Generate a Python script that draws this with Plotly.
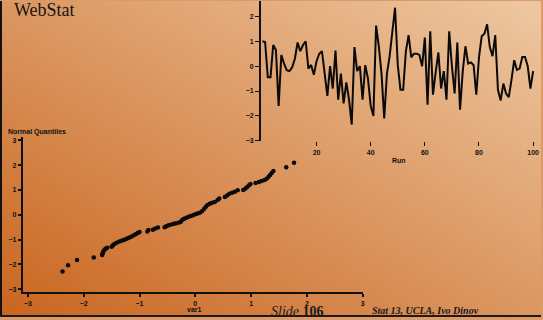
import base64
import plotly.graph_objects as go

# ---- data -------------------------------------------------------------
run_index = list(range(0, 101))
run_values = [
    1.0, 0.97, -0.45, -0.45, 0.85, 0.65, -1.6, 0.45, 0.1, -0.16,
    -0.2, -0.05, 0.3, 0.95, 0.6, 0.85, 1.0, -0.1, 0.05, -0.35,
    0.2, 0.5, 0.6, -0.4, -1.2, 0.0, -0.9, 0.63, -1.35, -0.3,
    -1.5, -0.65, -1.35, -2.35, 0.77, -0.2, 0.0, -1.35, 0.04, -0.5,
    -1.6, -2.0, 1.63, 0.8, -0.3, -2.1, -0.3, 0.4, 1.5, 2.35,
    0.05, -0.95, -0.95, 0.6, 1.25, 0.35, 0.5, 0.5, 0.45, 0.0,
    1.15, -1.55, 1.4, -1.15, -0.25, 0.55, -0.9, -0.2, -1.35, 1.4,
    0.0, -1.1, 0.95, -1.75, -0.2, 0.8, 0.1, 0.15, 0.05, -1.15,
    0.35, 1.2, 1.3, 1.68, 0.77, 0.4, 1.25, -0.95, -1.38, -0.7,
    -1.1, -1.25, -0.55, 0.24, -0.15, -0.1, 0.37, 0.37, 0.0, -0.9,
    -0.2,
]

qq_var1 = [
    -2.38, -2.28, -2.12, -1.82,
    -1.67, -1.66, -1.65, -1.63, -1.61, -1.58,
    -1.50, -1.48, -1.45, -1.41, -1.36, -1.31, -1.27, -1.23, -1.19, -1.15,
    -1.11, -1.07, -1.03, -1.00,
    -0.86, -0.84,
    -0.76, -0.72, -0.67,
    -0.55, -0.52, -0.48, -0.43, -0.38, -0.34, -0.29, -0.26, -0.23, -0.20,
    -0.16, -0.12, -0.08, -0.04, 0.00, 0.04, 0.08, 0.12, 0.16, 0.19,
    0.22, 0.26, 0.30, 0.35, 0.40, 0.43,
    0.53, 0.57, 0.61, 0.66, 0.71,
    0.76, 0.86, 0.90, 0.93, 0.96, 0.99, 1.08, 1.14, 1.19, 1.24,
    1.28, 1.31, 1.34, 1.37, 1.40,
    1.63, 1.77,
]
qq_normal = [
    -2.28, -2.03, -1.82, -1.72,
    -1.62, -1.55, -1.48, -1.42, -1.37, -1.33,
    -1.29, -1.24, -1.18, -1.12, -1.07, -1.03, -1.00, -0.96, -0.92, -0.88,
    -0.83, -0.78, -0.73, -0.69,
    -0.67, -0.61,
    -0.60, -0.55, -0.51,
    -0.50, -0.46, -0.42, -0.39, -0.36, -0.34, -0.31, -0.28, -0.20, -0.16,
    -0.12, -0.08, -0.05, -0.02, 0.02, 0.05, 0.08, 0.14, 0.24, 0.32,
    0.39, 0.44, 0.48, 0.52, 0.60, 0.66,
    0.72, 0.78, 0.85, 0.89, 0.93,
    0.99, 1.00, 1.06, 1.12, 1.18, 1.24, 1.28, 1.32, 1.36, 1.40,
    1.45, 1.52, 1.60, 1.68, 1.76,
    1.91, 2.09,
]

run_ticks = [20, 40, 60, 80, 100]
run_ytick_vals = [-3, -2, -1, 0, 1, 2]
qq_ticks = [-3, -2, -1, 0, 1, 2, 3]

# ---- figure -------------------------------------------------------------
W, H = 543, 320
def px(x):
    return x / W
def py(y):
    return 1 - y / H

fig = go.Figure()

fig.add_trace(go.Scatter(
    x=run_index, y=run_values, mode="lines",
    line=dict(color="#0a0a0a", width=2),
    xaxis="x", yaxis="y", showlegend=False, hoverinfo="skip",
))
fig.add_trace(go.Scatter(
    x=qq_var1, y=qq_normal, mode="markers",
    marker=dict(color="#0a0a0a", size=4.5, line=dict(width=0)),
    xaxis="x2", yaxis="y2", showlegend=False, hoverinfo="skip",
))

tick_font = dict(family="Liberation Sans", size=7, color="#111111", weight="bold")

fig.update_layout(
    width=W, height=H,
    margin=dict(l=0, r=0, t=0, b=0),
    paper_bgcolor="#DC9A66",
    plot_bgcolor="rgba(0,0,0,0)",
    xaxis=dict(
        domain=[px(262), px(540)], range=[-0.5, 101.8], anchor="y",
        showgrid=False, zeroline=False, showline=False,
        tickmode="array", tickvals=run_ticks,
        ticks="outside", ticklen=4, tickwidth=1, tickcolor="#111",
        tickfont=tick_font,
    ),
    yaxis=dict(
        domain=[py(142), 1.0], range=[-3.02, 2.62], anchor="x",
        showgrid=False, zeroline=False, showline=True,
        linecolor="#111", linewidth=2,
        tickmode="array", tickvals=run_ytick_vals,
        ticks="outside", ticklen=4, tickwidth=1, tickcolor="#111",
        tickfont=tick_font,
    ),
    xaxis2=dict(
        domain=[px(23), px(364)], range=[-3.09, 3.0], anchor="y2",
        showgrid=False, zeroline=False, showline=True,
        linecolor="#111", linewidth=2,
        tickmode="array", tickvals=qq_ticks,
        ticks="outside", ticklen=3, tickwidth=1.5, tickcolor="#111",
        tickfont=tick_font,
    ),
    yaxis2=dict(
        domain=[py(295), py(138)], range=[-3.12, 3.12], anchor="x2",
        showgrid=False, zeroline=False, showline=True,
        linecolor="#111", linewidth=2,
        tickmode="array", tickvals=qq_ticks,
        ticks="outside", ticklen=3, tickwidth=1.5, tickcolor="#111",
        tickfont=tick_font,
    ),
)

# gradient slide background
svg = (
    '<svg xmlns="http://www.w3.org/2000/svg" width="543" height="320">'
    '<defs><linearGradient id="g" x1="0" y1="1" x2="1" y2="0">'
    '<stop offset="0" stop-color="#C9651F"/>'
    '<stop offset="1" stop-color="#EEC8A2"/>'
    '</linearGradient></defs>'
    '<rect width="543" height="320" fill="url(#g)"/></svg>'
)
src = "data:image/svg+xml;base64," + base64.b64encode(svg.encode()).decode()
fig.add_layout_image(dict(
    source=src, xref="paper", yref="paper", x=0, y=1, sizex=1, sizey=1,
    xanchor="left", yanchor="top", sizing="stretch", layer="below",
))

# slide borders
fig.add_shape(type="rect", xref="paper", yref="paper",
              x0=0, x1=px(2), y0=0, y1=1, fillcolor="#111", line=dict(width=0))
fig.add_shape(type="rect", xref="paper", yref="paper",
              x0=0, x1=1, y0=0, y1=2 / H, fillcolor="#1a1a1a", line=dict(width=0))

serif = "Liberation Serif"
anns = [
    dict(text="WebStat", x=px(12), y=py(9), xanchor="left", yanchor="middle",
         font=dict(family=serif, size=18, color="#151515")),
    dict(text="<b>Normal Quantiles</b>", x=px(6), y=py(133), xanchor="left", yanchor="middle",
         font=dict(family="Liberation Sans", size=7, color="#111")),
    dict(text="<b>var1</b>", x=px(195), y=py(312), xanchor="center", yanchor="middle",
         font=dict(family="Liberation Sans", size=7, color="#111")),
    dict(text="<b>Run</b>", x=px(400), y=py(162), xanchor="center", yanchor="middle",
         font=dict(family="Liberation Sans", size=7, color="#111")),
    dict(text="<i>Slide</i> <b>106</b>", x=px(299), y=py(314), xanchor="center", yanchor="middle",
         font=dict(family=serif, size=14, color="#1a1a1a"), borderpad=0),
    dict(text="<b><i>Stat 13, UCLA, Ivo Dinov</i></b>", x=px(371), y=py(313), xanchor="left",
         yanchor="middle", font=dict(family=serif, size=10, color="#1a1a1a")),
]
for a in anns:
    a.update(xref="paper", yref="paper", showarrow=False)
    fig.add_annotation(**a)

fig.write_html(
    "out.html",
    config={"displayModeBar": False},
    post_script="document.body.style.margin='0';document.body.style.overflow='hidden';",
)
